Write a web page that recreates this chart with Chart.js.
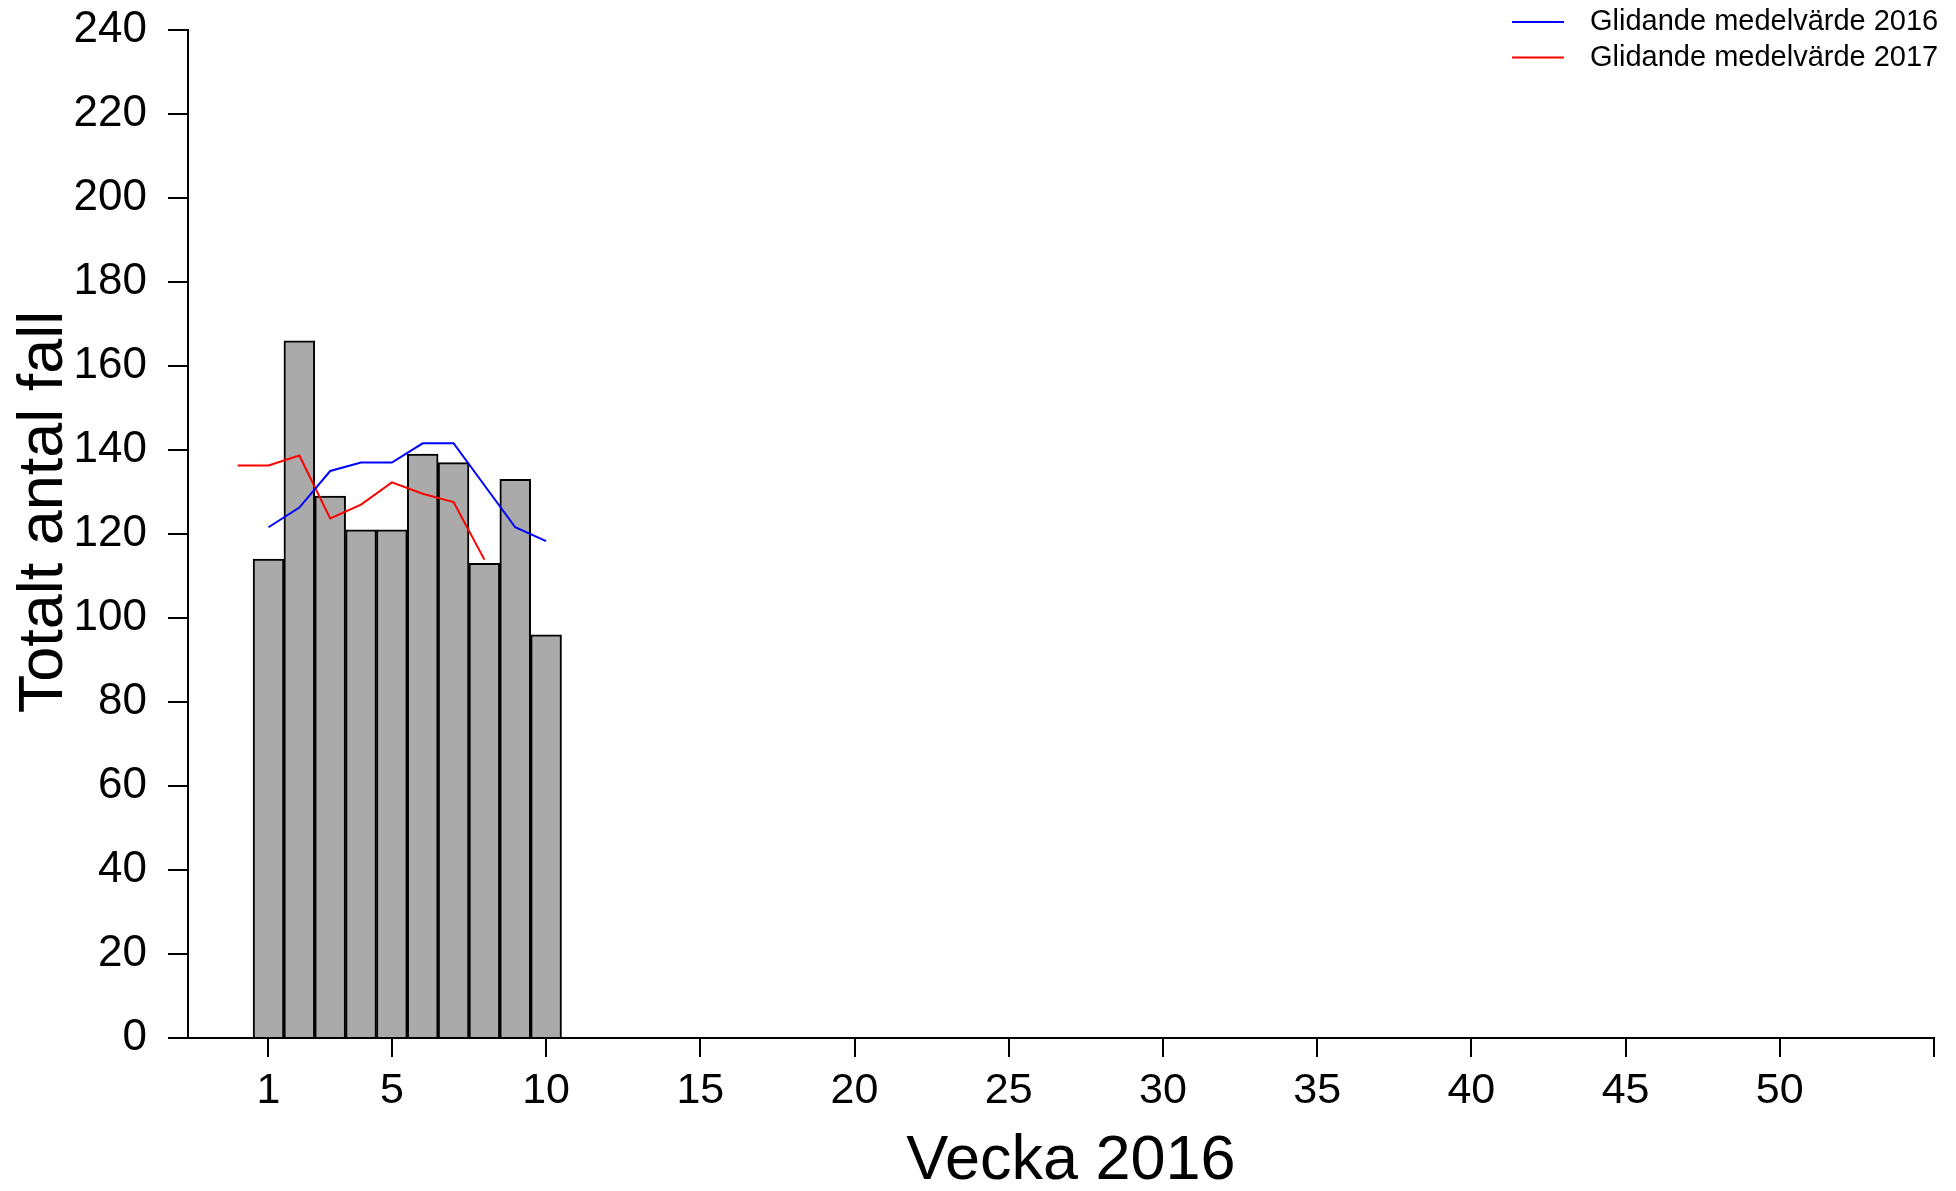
<!DOCTYPE html>
<html>
<head>
<meta charset="utf-8">
<script src="https://cdn.jsdelivr.net/npm/chart.js@4/dist/chart.umd.min.js"></script>
<style>
  html, body { margin: 0; padding: 0; background: #fff; }
  #wrap { width: 1956px; height: 1191px; }
</style>
</head>
<body>
<div id="wrap"><canvas id="weekChart"></canvas></div>
<script>
// weekly case counts 2016
const weeks = [1, 2, 3, 4, 5, 6, 7, 8, 9, 10];
const cases = [114, 166, 129, 121, 121, 139, 137, 113, 133, 96];

// moving averages
const avgWeeks2016 = [1, 2, 3, 4, 5, 6, 7, 8, 9, 10];
const avg2016 = [121.6, 126.3, 135.0, 137.0, 137.0, 141.6, 141.6, 131.6, 121.6, 118.3];
const avgWeeks2017 = [0, 1, 2, 3, 4, 5, 6, 7, 8];
const avg2017 = [136.3, 136.3, 138.7, 123.7, 127.0, 132.3, 129.6, 127.6, 113.9];

const xTicks = [1, 5, 10, 15, 20, 25, 30, 35, 40, 45, 50, 55];
const xMin = -1.61;
const xMax = 55;

const xTitle = 'Vecka 2016';
const yTitle = 'Totalt antal fall';

const fontFamily = '"Liberation Sans", Arial, sans-serif';

function toPoints(xs, ys) {
    var pts = [];
    for (var i = 0; i < xs.length; i++) {
        pts.push({ x: xs[i], y: ys[i] });
    }
    return pts;
}

/*
legend in the top right corner (two rows of line + label)
and the two axis titles, placed like the original R plot
*/
const extraText = {
    id: 'extraText',
    afterDraw(chart) {
        const ctx = chart.ctx;
        const rows = chart.data.datasets.filter(d => d.type === 'line');
        ctx.save();
        ctx.font = '29px ' + fontFamily;
        ctx.textBaseline = 'middle';
        ctx.textAlign = 'left';
        rows.forEach((d, i) => {
            const y = 22 + i * 35.5;
            ctx.strokeStyle = d.borderColor;
            ctx.lineWidth = 2;
            ctx.beginPath();
            ctx.moveTo(1512, y);
            ctx.lineTo(1564, y);
            ctx.stroke();
            ctx.fillStyle = '#000';
            ctx.fillText(d.label, 1590, y);
        });

        ctx.fillStyle = '#000';
        ctx.textAlign = 'center';
        ctx.font = '63px ' + fontFamily;
        ctx.fillText(xTitle, 1071, 1162);

        ctx.translate(45, 512);
        ctx.rotate(-Math.PI / 2);
        ctx.fillText(yTitle, 0, 0);
        ctx.restore();
    }
};

new Chart(document.getElementById('weekChart'), {
    type: 'bar',
    data: {
        datasets: [{
            type: 'line',
            label: 'Glidande medelvärde 2016',
            data: toPoints(avgWeeks2016, avg2016),
            borderColor: '#0000ff',
            borderWidth: 2,
            pointRadius: 0,
            tension: 0,
            order: 0
        }, {
            type: 'line',
            label: 'Glidande medelvärde 2017',
            data: toPoints(avgWeeks2017, avg2017),
            borderColor: '#ff0000',
            borderWidth: 2,
            pointRadius: 0,
            tension: 0,
            order: 0
        }, {
            type: 'bar',
            label: 'Antal fall',
            data: toPoints(weeks, cases),
            backgroundColor: '#aaaaaa',
            borderColor: '#000000',
            borderWidth: 2,
            barPercentage: 1,
            categoryPercentage: 1,
            order: 1
        }]
    },
    options: {
        responsive: true,
        maintainAspectRatio: false,
        animation: false,
        events: [],
        layout: {
            padding: { top: 30, right: 22, bottom: 0, left: 0 }
        },
        plugins: {
            legend: { display: false },
            tooltip: { enabled: false }
        },
        scales: {
            x: {
                type: 'linear',
                min: xMin,
                max: xMax,
                offset: false,
                afterBuildTicks: (scale) => {
                    scale.ticks = xTicks.map(v => ({ value: v }));
                },
                afterFit: (scale) => {
                    scale.height = 153;
                    scale.paddingLeft = 0;
                    scale.paddingRight = 0;
                },
                grid: {
                    offset: false,
                    drawOnChartArea: false,
                    drawTicks: true,
                    tickLength: 19,
                    color: '#000',
                    lineWidth: 2
                },
                border: { display: true, color: '#000', width: 2 },
                ticks: {
                    autoSkip: false,
                    maxRotation: 0,
                    padding: 8,
                    color: '#000',
                    font: { family: fontFamily, size: 43 },
                    callback: (v) => (v === 55 ? '' : v)
                }
            },
            y: {
                min: 0,
                max: 240,
                afterFit: (scale) => {
                    scale.width = 188;
                    scale.paddingTop = 0;
                    scale.paddingBottom = 0;
                },
                grid: {
                    drawOnChartArea: false,
                    drawTicks: true,
                    tickLength: 20,
                    color: '#000',
                    lineWidth: 2
                },
                border: { display: true, color: '#000', width: 2 },
                ticks: {
                    stepSize: 20,
                    padding: 21,
                    color: '#000',
                    font: { family: fontFamily, size: 44 }
                }
            }
        }
    },
    plugins: [extraText]
});
</script>
</body>
</html>
